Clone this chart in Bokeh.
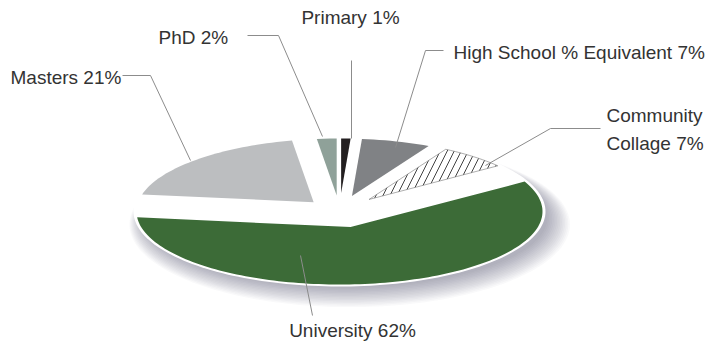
import numpy as np
from bokeh.plotting import figure
from bokeh.models import Range1d, ColumnDataSource
from bokeh.embed import file_html
from bokeh.resources import INLINE
from bokeh.core.properties import value

# ---- data ----
categories = ["Primary", "High School % Equivalent", "Community\nCollage", "University", "Masters", "PhD"]
shares = [1, 7, 7, 62, 21, 2]

# ---- style ----
colors = ["#231f20", "#808285", "#ffffff", "#3c6b37", "#bcbec0", "#8fa199"]
hatches = [" ", " ", "/", " ", " ", " "]
explode = [0.25, 0.22, 0.22, 0.22, 0.18, 0.22]
start_angle = 90.0
CX, CY, RX, RY = 339.0, 211.0, 203.0, 73.0
FONT = "Liberation Sans"

label_x = [350, 453, 606, 352, 10, 158]
label_y = [17, 52, 129, 330, 77, 37]
label_align = ["center", "left", "left", "center", "left", "left"]
leader_xs = [[351, 351], [443, 425, 395], [600, 550, 485], [300, 312], [122, 150, 190], [247, 278, 322]]
leader_ys = [[60, 138], [50, 50, 147], [128, 128, 165], [255, 315], [75, 75, 160], [35, 35, 136]]


def to_screen(u, v, cx=CX, cy=CY, rx=RX, ry=RY):
    return cx + rx * np.asarray(u), cy - ry * np.asarray(v)


def ray_hit(A, ang, R=1.0):
    d = np.array([np.cos(ang), np.sin(ang)])
    b = A @ d
    t = -b + np.sqrt(b * b - A @ A + R * R)
    return A + t * d


W, H = 709, 346
p = figure(width=W, height=H, output_backend="svg", toolbar_location=None,
           x_range=Range1d(0, W), y_range=Range1d(H, 0), min_border=0)
p.axis.visible = False
p.grid.visible = False
p.outline_line_color = None
p.background_fill_color = "white"
p.border_fill_color = "white"

# soft shadow + white plate
th = np.linspace(0, 2 * np.pi, 200)
sx, sy = [], []
for k in range(15):
    x, y = to_screen(np.cos(th), np.sin(th), cx=CX + 6 + k * 0.3, cy=CY + 6 + k * 0.5,
                     rx=RX - 1 + k * 1.3, ry=70 + k * 0.9)
    sx.append(list(x)); sy.append(list(y))
p.patches(sx, sy, fill_color="#4a4a58", fill_alpha=0.03, line_color=None)
px, py = to_screen(np.cos(th) * (RX + 3) / RX, np.sin(th) * 75 / RY)
p.patch(list(px), list(py), fill_color="white", line_color=None)

# slices (exploded sectors clipped to the plate rim)
total = float(sum(shares))
xs, ys = [], []
a0 = np.radians(start_angle)
for s, e in zip(shares, explode):
    sweep = 2 * np.pi * s / total
    a1 = a0 - sweep
    mid = (a0 + a1) / 2
    A = e * np.array([np.cos(mid), np.sin(mid)])
    P0 = ray_hit(A, a0)
    P1 = ray_hit(A, a1)
    b0 = np.arctan2(P0[1], P0[0])
    b1 = np.arctan2(P1[1], P1[0])
    b1 = b0 - ((b0 - b1) % (2 * np.pi))
    arc = np.linspace(b0, b1, max(4, int(abs(b0 - b1) * 40)))
    u = np.concatenate([[A[0]], np.cos(arc)])
    v = np.concatenate([[A[1]], np.sin(arc)])
    x, y = to_screen(u, v)
    xs.append(list(x)); ys.append(list(y))
    a0 = a1

src = ColumnDataSource(dict(xs=xs, ys=ys, color=colors, hatch=hatches,
                            lc=["#231f20" if h == " " else "#777777" for h in hatches],
                            lw=[0 if h == " " else 0.6 for h in hatches]))
p.patches("xs", "ys", source=src, fill_color="color", line_color="lc", line_width="lw",
          hatch_pattern="hatch", hatch_color="#111111", hatch_scale=14, hatch_weight=0.8)

# leader lines
p.multi_line(leader_xs, leader_ys, line_color="#8c8c8c", line_width=1)

# labels
texts = [f"{c} {s}%" for c, s in zip(categories, shares)]
lsrc = ColumnDataSource(dict(x=label_x, y=label_y, text=texts, align=label_align))
p.text("x", "y", text="text", source=lsrc, text_align="align", text_baseline="middle",
       text_font=value(FONT), text_font_size="19px", text_color="#333333",
       text_line_height=1.3)

open("out.html", "w").write(file_html(p, INLINE))
